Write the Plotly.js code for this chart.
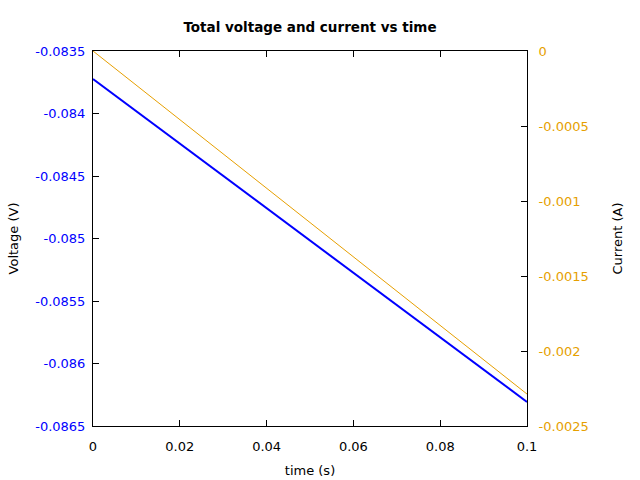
<!DOCTYPE html>
<html><head><meta charset="utf-8">
<script src="https://cdn.plot.ly/plotly-3.0.1.min.js"></script>
<style>html,body{margin:0;padding:0;background:#fff}#c{width:640px;height:480px}</style>
</head><body><div id="c"></div>
<script>
const time = [0, 0.1];
const voltage = [-0.083724, -0.086308];
const current = [0, -0.002287];
const xTickVals = [0, 0.02, 0.04, 0.06, 0.08, 0.1];
const xTickText = ['0', '0.02', '0.04', '0.06', '0.08', '0.1'];
const vTickVals = [-0.0865, -0.086, -0.0855, -0.085, -0.0845, -0.084, -0.0835];
const vTickText = ['-0.0865', '-0.086', '-0.0855', '-0.085', '-0.0845', '-0.084', '-0.0835'];
const iTickVals = [-0.0025, -0.002, -0.0015, -0.001, -0.0005, 0];
const iTickText = ['-0.0025', '-0.002', '-0.0015', '-0.001', '-0.0005', '0'];

const font = 'DejaVu Sans, sans-serif';
const data = [
  {x: time, y: voltage, type: 'scatter', mode: 'lines', line: {color: '#0000ff', width: 2}, yaxis: 'y', name: 'Voltage'},
  {x: time, y: current, type: 'scatter', mode: 'lines', line: {color: '#e69f00', width: 1}, yaxis: 'y2', name: 'Current'}
];
const layout = {
  width: 640, height: 480,
  margin: {l: 93, r: 113, t: 51, b: 54},
  paper_bgcolor: '#fff', plot_bgcolor: '#fff',
  showlegend: false,
  font: {family: font, size: 13, color: '#000'},
  title: {text: '<b>Total voltage and current vs time</b>', font: {family: font, size: 13.5, color: '#000'}, xref: 'paper', x: 0.5, xanchor: 'center', y: 1 - 27/480, yanchor: 'middle'},
  xaxis: {
    range: [0, 0.1], tickvals: xTickVals, ticktext: xTickText,
    showgrid: false, zeroline: false, showline: true, linecolor: '#000', linewidth: 1, mirror: 'ticks',
    ticks: 'inside', ticklen: 6, tickcolor: '#000', ticklabelstandoff: 8,
    tickfont: {family: font, size: 13, color: '#000'},
    title: {text: 'time (s)', font: {family: font, size: 13, color: '#000'}, standoff: 13}
  },
  yaxis: {
    range: [-0.0865, -0.0835], tickvals: vTickVals, ticktext: vTickText,
    showgrid: false, zeroline: false, showline: true, linecolor: '#000', linewidth: 1,
    ticks: 'inside', ticklen: 6, tickcolor: '#000', ticklabelstandoff: 4,
    tickfont: {family: font, size: 13, color: '#0000ff'},
    title: {text: 'Voltage (V)', font: {family: font, size: 13, color: '#000'}, standoff: 13}
  },
  yaxis2: {
    range: [-0.0025, 0], tickvals: iTickVals, ticktext: iTickText,
    overlaying: 'y', side: 'right',
    showgrid: false, zeroline: false, showline: true, linecolor: '#000', linewidth: 1,
    ticks: 'inside', ticklen: 6, tickcolor: '#000', ticklabelstandoff: 8,
    tickfont: {family: font, size: 13, color: '#e69f00'},
    title: {text: 'Current (A)', font: {family: font, size: 13, color: '#000'}, standoff: 25}
  }
};
Plotly.newPlot('c', data, layout, {staticPlot: true, displayModeBar: false});
</script></body></html>
